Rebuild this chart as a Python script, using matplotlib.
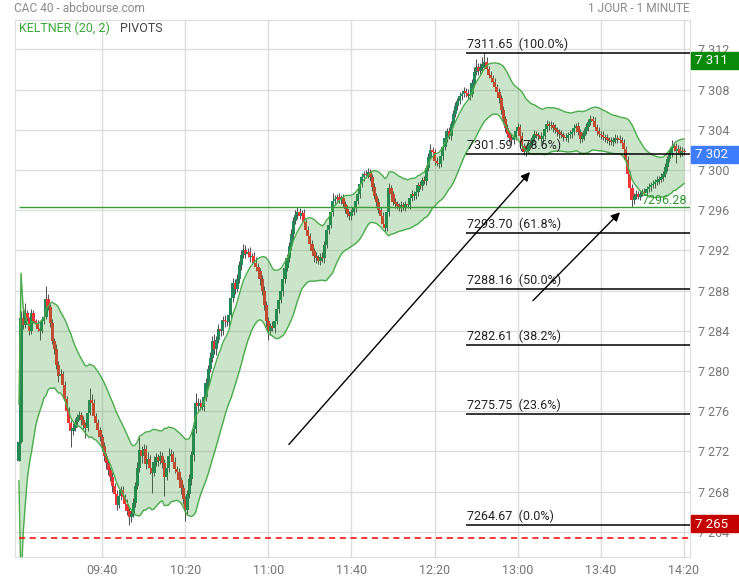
import numpy as np
import pandas as pd
import matplotlib
matplotlib.use("Agg")
import matplotlib.pyplot as plt
from matplotlib.patches import Rectangle

plt.rcParams['font.family'] = ['Roboto', 'DejaVu Sans']

## Data : CAC 40, 1 minute candles from 09:00 (minute 0) to 14:20
first_open = 7271.1
close = [
    7272.9, 7285.3, 7284.6, 7285.8, 7285.2, 7284.0, 7285.8, 7285.0, 7284.8, 7284.2,
    7284.0, 7285.0, 7285.4, 7287.2, 7286.4, 7284.8, 7283.0, 7282.2, 7280.6, 7279.5,
    7279.7, 7278.6, 7277.2, 7276.0, 7274.8, 7274.0, 7274.3, 7274.9, 7275.4, 7275.6,
    7275.1, 7274.6, 7274.3, 7275.8, 7277.1, 7276.8, 7275.5, 7274.8, 7274.1, 7273.4,
    7272.5, 7271.5, 7270.9, 7270.2, 7269.5, 7268.6, 7267.8, 7266.7, 7267.6, 7268.2,
    7267.5, 7266.8, 7266.1, 7265.5, 7265.8, 7266.9, 7268.6, 7270.4, 7272.1, 7271.5,
    7272.2, 7270.8, 7271.3, 7270.4, 7269.9, 7271.0, 7271.4, 7271.1, 7271.5, 7270.9,
    7269.5, 7270.4, 7271.5, 7271.7, 7271.0, 7270.3, 7270.0, 7269.2, 7268.4, 7267.3,
    7266.2, 7267.8, 7269.3, 7271.6, 7274.2, 7276.8, 7276.5, 7276.8, 7276.4, 7277.4,
    7278.8, 7280.2, 7281.3, 7283.0, 7282.2, 7283.1, 7284.2, 7284.0, 7285.1, 7285.0,
    7284.9, 7285.6, 7287.3, 7288.8, 7288.2, 7289.2, 7290.6, 7291.5, 7292.0, 7291.6,
    7291.8, 7291.3, 7291.4, 7290.8, 7290.4, 7290.0, 7289.2, 7288.0, 7286.6, 7285.0,
    7284.0, 7284.5, 7284.3, 7285.0, 7286.2, 7287.1, 7288.0, 7289.2, 7290.3, 7291.2,
    7292.4, 7293.6, 7294.9, 7295.5, 7295.8, 7295.4, 7295.7, 7294.8, 7294.0, 7293.4,
    7292.6, 7291.9, 7291.4, 7291.2, 7291.0, 7291.3, 7291.2, 7292.5, 7294.0, 7294.5,
    7295.8, 7296.9, 7297.1, 7297.3, 7297.0, 7297.2, 7296.6, 7296.1, 7295.6, 7295.4,
    7295.8, 7296.2, 7296.9, 7297.6, 7298.6, 7299.3, 7299.6, 7299.5, 7299.8, 7299.3,
    7298.3, 7297.4, 7296.8, 7296.0, 7295.4, 7294.6, 7294.2, 7295.8, 7298.2, 7297.6,
    7296.8, 7296.6, 7296.4, 7296.2, 7296.5, 7296.3, 7296.6, 7296.5, 7297.2, 7297.6,
    7297.4, 7297.8, 7298.5, 7298.4, 7299.0, 7298.9, 7300.2, 7301.3, 7302.0, 7301.8,
    7300.9, 7300.7, 7300.6, 7301.4, 7302.3, 7303.2, 7303.9, 7303.4, 7304.6, 7305.6,
    7306.4, 7306.9, 7307.4, 7307.6, 7307.9, 7307.7, 7307.4, 7307.6, 7308.7, 7309.8,
    7310.3, 7309.9, 7310.2, 7310.6, 7310.8, 7310.1, 7309.5, 7309.2, 7308.8, 7308.3,
    7307.8, 7307.2, 7306.0, 7305.1, 7304.2, 7303.6, 7303.2, 7303.0, 7303.3, 7303.9,
    7304.3, 7303.4, 7302.4, 7301.8, 7301.9, 7302.5, 7302.7, 7303.2, 7303.6, 7303.5,
    7303.4, 7303.1, 7303.4, 7304.1, 7304.6, 7304.4, 7304.5, 7304.2, 7304.0, 7303.8,
    7303.6, 7303.5, 7303.3, 7303.2, 7303.5, 7303.6, 7303.8, 7304.2, 7304.4, 7303.8,
    7303.1, 7303.4, 7303.9, 7304.3, 7304.8, 7305.1, 7304.9, 7304.3, 7303.9, 7303.6,
    7303.5, 7303.3, 7303.2, 7303.0, 7302.9, 7302.8, 7303.0, 7303.2, 7303.1, 7303.0,
    7302.7, 7302.1, 7301.0, 7299.6, 7298.2, 7297.0, 7297.4, 7297.6, 7297.3, 7297.6,
    7297.8, 7297.7, 7298.1, 7298.3, 7298.5, 7298.6, 7298.8, 7299.0, 7299.1, 7299.3,
    7299.6, 7300.3, 7301.1, 7301.7, 7302.2, 7302.4, 7301.9, 7302.1, 7301.7, 7301.9,
    7301.8,
]
# wicks above / below the body, in tenths of a point
wick_hi = [
    1, 7, 8, 10, 3, 2, 4, 3, 2, 3,
    3, 4, 3, 13, 5, 3, 4, 3, 5, 4,
    5, 3, 4, 3, 4, 3, 5, 4, 3, 4,
    3, 4, 3, 5, 12, 6, 4, 3, 4, 3,
    3, 4, 3, 4, 3, 5, 3, 4, 6, 4,
    4, 3, 5, 3, 4, 5, 4, 6, 13, 4,
    5, 4, 6, 3, 4, 5, 4, 3, 5, 4,
    4, 5, 8, 5, 3, 4, 3, 4, 3, 4,
    3, 4, 5, 4, 6, 10, 5, 4, 6, 5,
    5, 4, 6, 5, 7, 4, 5, 6, 4, 5,
    5, 4, 6, 5, 4, 5, 4, 5, 6, 5,
    4, 5, 3, 4, 5, 4, 3, 4, 5, 4,
    4, 3, 5, 4, 5, 4, 5, 4, 5, 4,
    4, 5, 4, 5, 5, 4, 3, 4, 3, 4,
    3, 4, 3, 4, 3, 4, 5, 4, 5, 4,
    4, 8, 4, 3, 4, 3, 4, 3, 4, 3,
    3, 4, 3, 4, 3, 4, 3, 4, 4, 3,
    3, 4, 3, 4, 3, 4, 3, 4, 5, 3,
    3, 4, 3, 3, 4, 3, 3, 4, 3, 4,
    3, 4, 3, 4, 3, 4, 3, 4, 6, 3,
    3, 4, 3, 4, 3, 4, 3, 4, 3, 4,
    4, 3, 4, 3, 4, 3, 4, 3, 4, 5,
    7, 4, 5, 6, 8, 4, 3, 4, 3, 4,
    3, 4, 3, 4, 3, 4, 3, 4, 3, 4,
    4, 3, 4, 3, 4, 3, 4, 3, 4, 3,
    3, 4, 3, 4, 4, 3, 4, 3, 4, 3,
    3, 4, 3, 4, 3, 4, 3, 4, 3, 4,
    3, 4, 3, 4, 3, 4, 3, 4, 3, 4,
    3, 4, 3, 4, 3, 4, 3, 4, 3, 4,
    3, 4, 3, 4, 3, 4, 3, 4, 3, 4,
    3, 4, 3, 4, 3, 4, 3, 4, 3, 4,
    3, 4, 3, 4, 8, 4, 3, 4, 3, 4,
    3,
]
wick_lo = [
    0, 1, 4, 3, 2, 4, 3, 2, 3, 2,
    9, 2, 3, 2, 3, 4, 3, 5, 4, 6,
    4, 5, 3, 6, 5, 16, 4, 3, 5, 3,
    5, 4, 10, 3, 2, 4, 5, 3, 6, 4,
    5, 4, 6, 5, 4, 6, 7, 5, 3, 4,
    5, 6, 4, 8, 5, 3, 4, 3, 4, 6,
    3, 5, 4, 6, 20, 3, 4, 5, 3, 5,
    19, 3, 4, 3, 5, 4, 5, 4, 6, 5,
    11, 5, 4, 6, 5, 4, 5, 4, 3, 4,
    4, 5, 3, 4, 5, 6, 3, 5, 4, 6,
    4, 5, 3, 4, 5, 3, 4, 5, 3, 4,
    3, 4, 5, 3, 4, 5, 6, 4, 5, 6,
    9, 4, 3, 5, 3, 4, 3, 5, 4, 3,
    3, 4, 5, 3, 4, 3, 4, 5, 4, 3,
    4, 3, 5, 4, 3, 4, 3, 4, 3, 4,
    3, 4, 3, 4, 3, 4, 3, 4, 3, 4,
    4, 3, 4, 3, 4, 3, 4, 3, 3, 4,
    4, 3, 4, 3, 4, 3, 4, 3, 4, 3,
    3, 4, 3, 3, 4, 3, 4, 3, 4, 3,
    4, 3, 4, 3, 4, 3, 4, 3, 3, 4,
    4, 3, 4, 3, 4, 3, 4, 3, 4, 3,
    3, 4, 3, 4, 3, 4, 3, 4, 3, 4,
    3, 4, 3, 4, 3, 4, 3, 4, 3, 4,
    4, 5, 4, 5, 4, 3, 4, 3, 4, 3,
    3, 4, 3, 3, 4, 3, 4, 3, 4, 3,
    4, 3, 4, 3, 3, 4, 3, 4, 3, 4,
    4, 3, 4, 3, 4, 3, 4, 3, 4, 3,
    4, 3, 4, 3, 4, 3, 4, 3, 4, 3,
    4, 3, 4, 3, 4, 3, 4, 3, 4, 3,
    4, 5, 4, 5, 4, 7, 4, 3, 2, 3,
    2, 2, 2, 3, 4, 3, 4, 3, 4, 3,
    4, 3, 4, 3, 4, 3, 12, 3, 4, 3,
    3,
]

# Fibonacci retracement (pivots)
fib_levels = [7311.65, 7301.59, 7293.70, 7288.16, 7282.61, 7275.75, 7264.67]
fib_pct = ["100.0%", "78.6%", "61.8%", "50.0%", "38.2%", "23.6%", "0.0%"]
fib_start = 215.3
support = 7296.28
ref_line = 7263.4
arrows = [((129.9, 7272.7), (245.9, 7299.8)), ((247.3, 7287.0), (289.2, 7295.8))]

xtick_pos = [40, 80, 120, 160, 200, 240, 280, 320]
xtick_lab = ["09:40", "10:20", "11:00", "11:40", "12:20", "13:00", "13:40", "14:20"]
ytick_pos = list(range(7264, 7313, 4))

# right side boxes : label, colour, top pixel
boxes = [("7 311", "#0a8a0a", 52), ("7 302", "#3d7cff", 146), ("7 265", "#c40000", 515)]

## Candles
c = np.array(close)
o = np.r_[first_open, c[:-1]]
h = np.maximum(o, c) + np.array(wick_hi) / 10
l = np.minimum(o, c) - np.array(wick_lo) / 10
t = np.arange(len(c))

# Keltner (20, 2)
mid = pd.Series(c).ewm(span=20, adjust=False).mean().values
atr = pd.Series(h - l).ewm(span=20, adjust=True).mean().values
upper = mid + 2 * atr
lower = mid - 2 * atr

W, H = 739, 580
fig = plt.figure(figsize=(W / 100, H / 100), dpi=100)
ax = fig.add_axes([15 / W, 23 / H, 675 / W, 537 / H])
xmin, xmax = -1.9, 322.9
ax.set_xlim(xmin, xmax)
ax.set_ylim(7261.5, 7314.93)

cols = np.where(c >= o, "#23875a", "#ee3434")
ax.vlines(t, l, h, color="#4d4d4d", lw=0.7, zorder=2)
ax.bar(t, np.maximum(np.abs(c - o), 0.12), bottom=np.minimum(o, c), width=1.5,
       color=cols, linewidth=0, zorder=3)

ax.fill_between(t, lower, upper, color=(0.2, 0.6, 0.2), alpha=0.25, lw=0, zorder=4)
ax.plot(t, upper, color="#4cab4c", lw=1, zorder=5)
ax.plot(t, lower, color="#4cab4c", lw=1, zorder=5)

ax.hlines(support, 0, xmax, color="#3a9d3a", lw=1, zorder=6)
ax.text(321.5, support + 0.02, f"{support:.2f}", color="#2f962f", fontsize=9,
        ha="right", va="bottom", zorder=8)
ax.hlines(ref_line, 0, xmax, color="red", lw=1.1, linestyles=(0, (4, 3)), zorder=6)

ax.hlines(fib_levels, fib_start, xmax, color="black", lw=1.1, zorder=7)
for lv, p in zip(fib_levels, fib_pct):
    ax.annotate(f"{lv:.2f}  ({p})", (fib_start, lv), xytext=(0.5, 1.5),
                textcoords="offset points", fontsize=9, color="#222222",
                va="bottom", zorder=8)

for (x0, y0), (x1, y1) in arrows:
    ax.annotate("", xy=(x1, y1), xytext=(x0, y0),
                arrowprops=dict(arrowstyle="-|>", color="black", lw=1,
                                mutation_scale=13, shrinkA=0, shrinkB=0), zorder=8)

ax.yaxis.tick_right()
ax.set_yticks(ytick_pos, [f"{v:,}".replace(",", " ") for v in ytick_pos])
ax.set_xticks(xtick_pos, xtick_lab)
ax.tick_params(axis="y", length=0, pad=6, labelsize=9, labelcolor="#757575")
ax.tick_params(axis="x", length=0, pad=5, labelsize=9, labelcolor="#757575")
ax.grid(True, color="#dddddd", lw=1)
ax.set_axisbelow(True)
for s in ax.spines.values():
    s.set_color("#dddddd")

for lab, col, top in boxes:
    fig.add_artist(Rectangle((691 / W, 1 - (top + 17) / H), 48 / W, 17 / H,
                             transform=fig.transFigure, color=col, zorder=10))
    fig.text(695 / W, 1 - (top + 9) / H, lab, color="white", fontsize=9.5,
             va="center", zorder=11)

fig.text(14 / W, 1 - 9 / H, "CAC 40 - abcbourse.com", fontsize=8.6, color="#8a8a8a", va="center")
fig.text(690 / W, 1 - 9 / H, "1 JOUR - 1 MINUTE", fontsize=8.6, color="#8a8a8a",
         va="center", ha="right")
fig.text(19 / W, 1 - 28 / H, "KELTNER (20, 2)", fontsize=9, color="#3aa83a", va="center")
fig.text(120 / W, 1 - 28 / H, "PIVOTS", fontsize=9, color="#444444", va="center")

fig.savefig("out.png", dpi=100)
